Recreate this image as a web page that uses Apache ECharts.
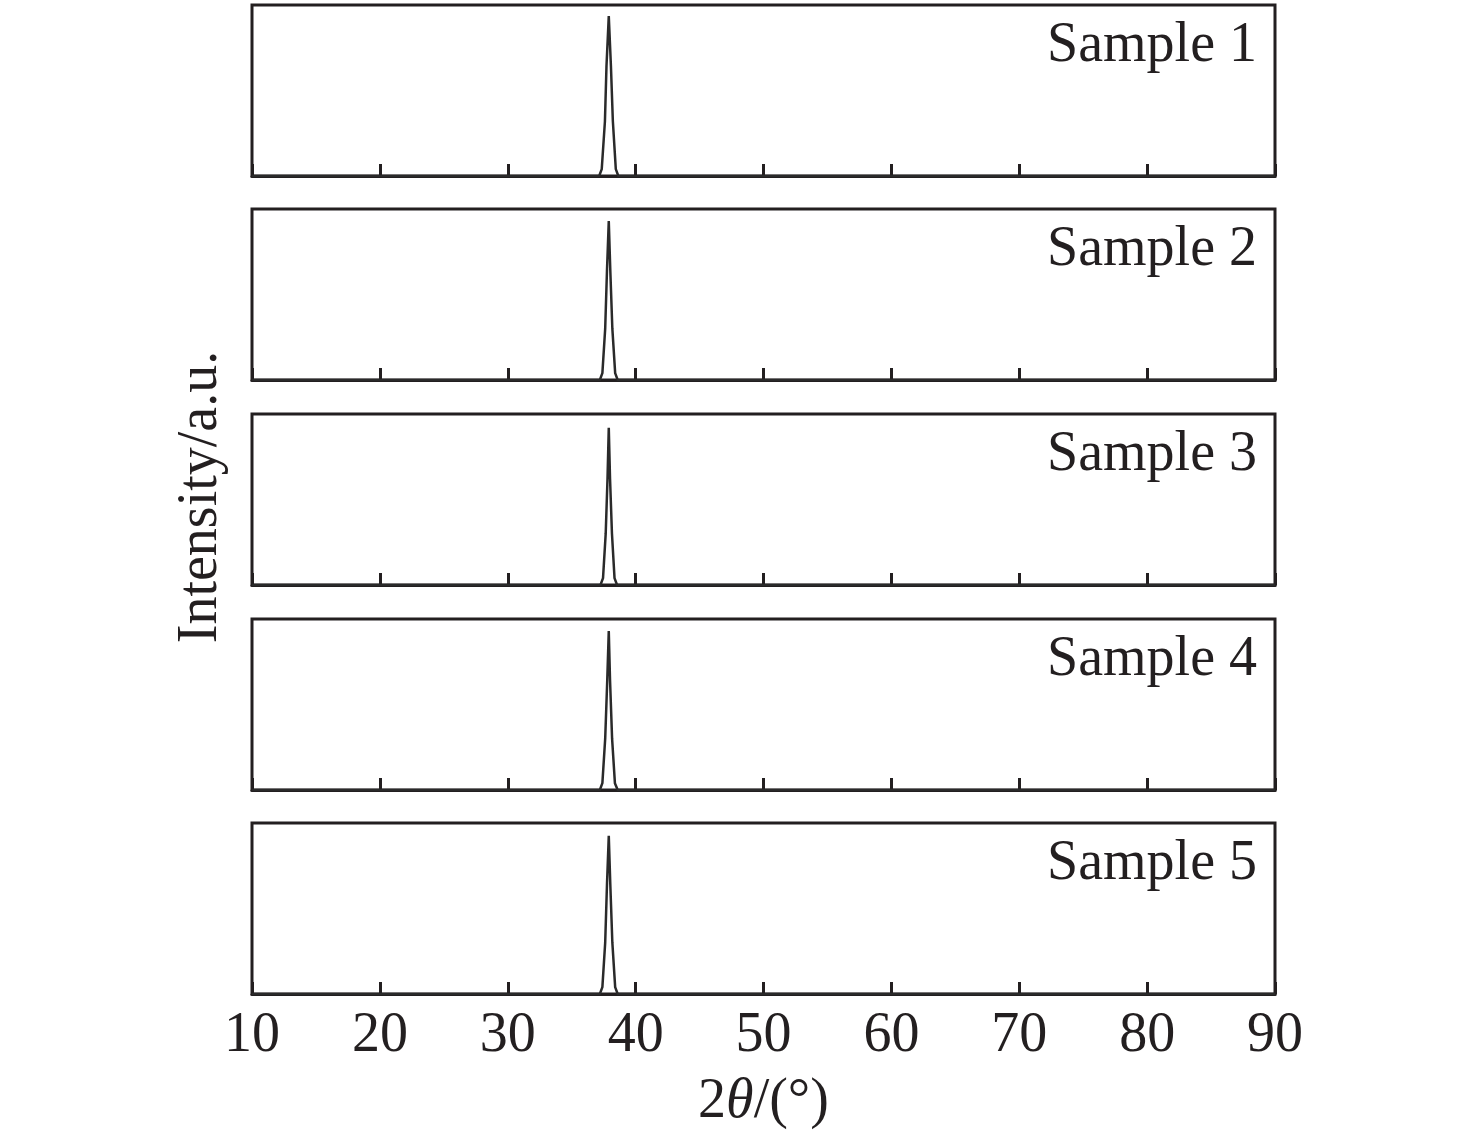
<!DOCTYPE html>
<html>
<head>
<meta charset="utf-8">
<script src="https://cdn.jsdelivr.net/npm/echarts@6/dist/echarts.min.js"></script>
<style>
html,body{margin:0;padding:0;background:#fff;}
#main{width:1476px;height:1136px;}
</style>
</head>
<body>
<div id="main"></div>
<script>
// ---- data ----
const sampleNames = ['Sample 1', 'Sample 2', 'Sample 3', 'Sample 4', 'Sample 5'];
const twoTheta1 = [10, 37.15, 37.35, 37.6, 37.72, 37.9, 38.07, 38.22, 38.45, 38.65, 90];
const twoTheta2 = [10, 37.2, 37.4, 37.62, 37.76, 37.9, 38.02, 38.18, 38.4, 38.6, 90];
const twoTheta3 = [10, 37.25, 37.45, 37.66, 37.8, 37.9, 38.0, 38.15, 38.35, 38.55, 90];
const twoTheta4 = [10, 37.2, 37.4, 37.62, 37.78, 37.9, 38.0, 38.16, 38.38, 38.6, 90];
const twoTheta5 = [10, 37.2, 37.4, 37.62, 37.76, 37.9, 38.02, 38.18, 38.4, 38.6, 90];
const intensity1 = [0, 0, 4, 32, 64, 93.5, 64, 32, 4, 0, 0];
const intensity2 = [0, 0, 4, 30, 64, 93, 64, 30, 4, 0, 0];
const intensity3 = [0, 0, 4, 30, 62, 92, 62, 30, 4, 0, 0];
const intensity4 = [0, 0, 4, 30, 64, 93, 64, 30, 4, 0, 0];
const intensity5 = [0, 0, 4, 30, 64, 92.5, 64, 30, 4, 0, 0];
const xTicks = [10, 20, 30, 40, 50, 60, 70, 80, 90];
const yAxisName = 'Intensity/a.u.';

const thetas = [twoTheta1, twoTheta2, twoTheta3, twoTheta4, twoTheta5];
const intensities = [intensity1, intensity2, intensity3, intensity4, intensity5];

// ---- layout ----
const LEFT = 252, RIGHT = 1476 - 1275;
const tops = [5, 209, 414, 619, 823];
const H = 171;
const ink = '#231f20';
const FONT = '"Liberation Serif", "Times New Roman", serif';

const grids = [], xAxes = [], yAxes = [], series = [], titles = [];
for (let i = 0; i < 5; i++) {
  grids.push({left: LEFT, right: RIGHT, top: tops[i], height: H, show: true,
    borderColor: ink, borderWidth: 3, backgroundColor: 'transparent', containLabel: false});
  const last = i === 4;
  xAxes.push({
    type: 'value', gridIndex: i, min: 10, max: 90, interval: 10,
    axisLine: {show: true, onZero: false, lineStyle: {color: ink, width: 3}},
    axisTick: {show: true, inside: true, length: 12, lineStyle: {color: ink, width: 3}},
    axisLabel: {show: last, margin: 14, color: ink, fontFamily: FONT, fontSize: 56,
      formatter: v => xTicks.includes(v) ? String(v) : ''},
    splitLine: {show: false},
    name: last ? '{n|2}{i|θ}{n|/(°)}' : '',
    nameLocation: 'middle', nameGap: 80,
    nameTextStyle: {color: ink, fontFamily: FONT, fontSize: 56, rich: {
      n: {fontFamily: FONT, fontSize: 56, color: ink},
      i: {fontFamily: FONT, fontSize: 56, color: ink, fontStyle: 'italic'}
    }}
  });
  yAxes.push({type: 'value', gridIndex: i, min: 0, max: 100, show: false});
  series.push({
    type: 'line', xAxisIndex: i, yAxisIndex: i, name: sampleNames[i],
    data: thetas[i].map((t, k) => [t, intensities[i][k]]),
    showSymbol: false, smooth: false, animation: false,
    lineStyle: {color: '#2a2a2a', width: 2.5}
  });
  titles.push({text: sampleNames[i], right: 1476 - 1262, top: tops[i] + 8,
    textStyle: {color: ink, fontFamily: FONT, fontSize: 56, fontWeight: 'normal'}});
}

const chart = echarts.init(document.getElementById('main'), null, {renderer: 'canvas'});
chart.setOption({
  animation: false,
  backgroundColor: '#fff',
  title: titles,
  grid: grids, xAxis: xAxes, yAxis: yAxes, series: series,
  graphic: [{
    type: 'text', x: 201, y: 497, rotation: Math.PI / 2,
    style: {text: yAxisName, fill: ink, font: '56px ' + FONT, align: 'center', verticalAlign: 'middle'}
  }]
});
</script>
</body>
</html>
